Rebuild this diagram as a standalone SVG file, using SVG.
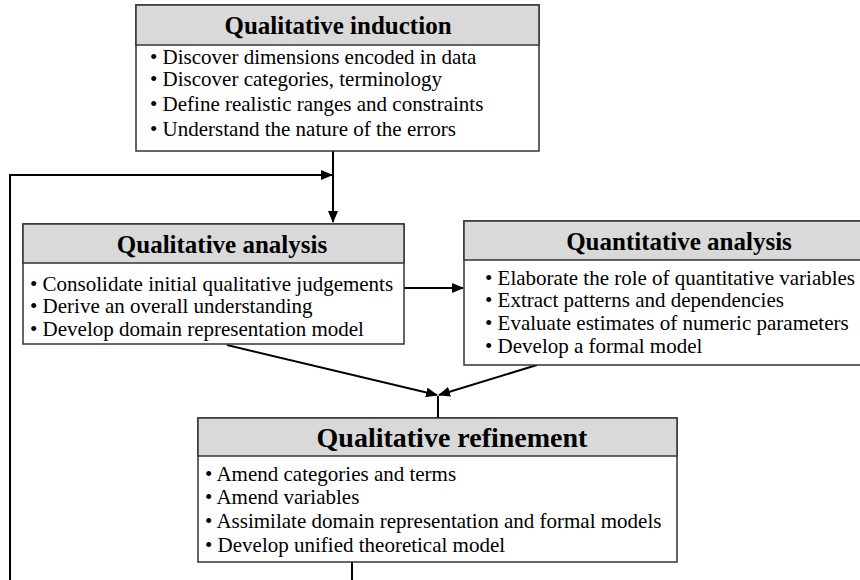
<svg xmlns="http://www.w3.org/2000/svg" width="860" height="580" viewBox="0 0 860 580">
<defs>
<style>
.box{fill:#ffffff;stroke:#333333;stroke-width:1.5}
.hdr{fill:#d9d9d9;stroke:#333333;stroke-width:1.5}
.title{font-family:"Liberation Serif","Times New Roman",serif;font-weight:bold;font-size:25px;fill:#000;text-anchor:middle}
.big{font-size:28px}
.item{font-family:"Liberation Serif","Times New Roman",serif;font-size:21px;fill:#000}
.conn{fill:none;stroke:#000;stroke-width:2}
</style>
<marker id="arr" markerUnits="userSpaceOnUse" markerWidth="12" markerHeight="10" refX="11" refY="5" orient="auto">
<path d="M0,0 L12,5 L0,10 Z" fill="#000"/>
</marker>
</defs>
<rect width="860" height="580" fill="#ffffff"/>

<g id="connectors">
<path class="conn" d="M333,151 V222" marker-end="url(#arr)"/>
<path class="conn" d="M352,562 V595 H10 V175 H332" marker-end="url(#arr)"/>
<path class="conn" d="M404,288 H463" marker-end="url(#arr)"/>
<path class="conn" d="M227,345 L437,395" marker-end="url(#arr)" stroke-width="1.5"/>
<path class="conn" d="M537,365 L439,395" marker-end="url(#arr)" stroke-width="1.5"/>
<path class="conn" d="M438,396 V418" stroke-width="1.5"/>
</g>

<g id="qualitative-induction">
<rect class="box" x="136" y="5" width="403" height="146"/>
<rect class="hdr" x="136" y="5" width="403" height="40"/>
<text class="title" x="338" y="34">Qualitative induction</text>
<text class="item" x="150" y="64">• Discover dimensions encoded in data</text>
<text class="item" x="150" y="86">• Discover categories, terminology</text>
<text class="item" x="150" y="111">• Define realistic ranges and constraints</text>
<text class="item" x="150" y="136">• Understand the nature of the errors</text>
</g>

<g id="qualitative-analysis">
<rect class="box" x="23" y="224" width="381" height="120"/>
<rect class="hdr" x="23" y="224" width="381" height="39"/>
<text class="title" x="222" y="253">Qualitative analysis</text>
<text class="item" x="30" y="291">• Consolidate initial qualitative judgements</text>
<text class="item" x="30" y="313">• Derive an overall understanding</text>
<text class="item" x="30" y="336">• Develop domain representation model</text>
</g>

<g id="quantitative-analysis">
<rect class="box" x="464" y="221" width="430" height="144"/>
<rect class="hdr" x="464" y="221" width="430" height="39"/>
<text class="title" x="679" y="250">Quantitative analysis</text>
<text class="item" x="485" y="285">• Elaborate the role of quantitative variables</text>
<text class="item" x="485" y="307">• Extract patterns and dependencies</text>
<text class="item" x="485" y="330">• Evaluate estimates of numeric parameters</text>
<text class="item" x="485" y="353">• Develop a formal model</text>
</g>

<g id="qualitative-refinement">
<rect class="box" x="198" y="418" width="479" height="144"/>
<rect class="hdr" x="198" y="418" width="479" height="38"/>
<text class="title big" x="452" y="447">Qualitative refinement</text>
<text class="item" x="205" y="481">• Amend categories and terms</text>
<text class="item" x="205" y="504">• Amend variables</text>
<text class="item" x="205" y="528">• Assimilate domain representation and formal models</text>
<text class="item" x="205" y="552">• Develop unified theoretical model</text>
</g>
</svg>
